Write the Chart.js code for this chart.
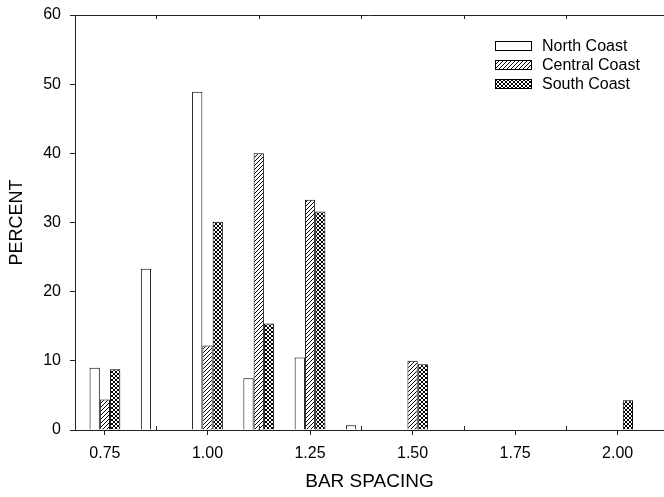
<!DOCTYPE html>
<html>
<head>
<meta charset="utf-8">
<script src="https://cdn.jsdelivr.net/npm/chart.js@4"></script>
<style>
  html, body { margin: 0; padding: 0; background: #fff; }
  #wrap { width: 664px; height: 497px; }
</style>
</head>
<body>
<div id="wrap"><canvas id="spacingChart"></canvas></div>
<script>
const seriesNames = ["North Coast", "Central Coast", "South Coast"];
const northSpacing = [0.75, 0.875, 1.0, 1.125, 1.25, 1.375];
const northPercent = [9.0, 23.3, 48.9, 7.5, 10.5, 0.7];
const centralSpacing = [0.75, 1.0, 1.125, 1.25, 1.5];
const centralPercent = [4.4, 12.2, 40.0, 33.3, 10.0];
const southSpacing = [0.75, 1.0, 1.125, 1.25, 1.5, 2.0];
const southPercent = [8.8, 30.1, 15.4, 31.6, 9.5, 4.3];
const xTicks = [0.75, 1.0, 1.25, 1.5, 1.75, 2.0];
const xMinorTicks = [0.875, 1.125, 1.375, 1.625, 1.875];

const axisColor = "#222";
const font = "Arial, 'Liberation Sans', sans-serif";

// fill patterns for the bars
function makePattern(cross) {
  const c = document.createElement("canvas");
  c.width = 4;
  c.height = 4;
  const g = c.getContext("2d");
  g.fillStyle = "#fff";
  g.fillRect(0, 0, 4, 4);
  g.strokeStyle = "#000";
  g.lineWidth = 1;
  g.beginPath();
  g.moveTo(-1, 5); g.lineTo(5, -1);
  g.moveTo(-1, 1); g.lineTo(1, -1);
  g.moveTo(3, 5); g.lineTo(5, 3);
  if (cross) {
    g.moveTo(-1, -1); g.lineTo(5, 5);
    g.moveTo(3, -1); g.lineTo(5, 1);
    g.moveTo(-1, 3); g.lineTo(1, 5);
  }
  g.stroke();
  return document.createElement("canvas").getContext("2d").createPattern(c, "repeat");
}

function toPoints(xs, ys) {
  return xs.map((x, i) => ({ x: x, y: ys[i] }));
}

const fills = ["#fff", makePattern(false), makePattern(true)];

// top frame line, minor ticks and the legend box
const extrasPlugin = {
  id: "extras",
  afterDraw(chart) {
    const ctx = chart.ctx;
    const area = chart.chartArea;
    const xs = chart.scales.x;
    ctx.save();
    ctx.strokeStyle = axisColor;
    ctx.lineWidth = 1;
    ctx.beginPath();
    ctx.moveTo(area.left, area.top + 0.5);
    ctx.lineTo(area.right, area.top + 0.5);
    xMinorTicks.forEach((v) => {
      const px = Math.round(xs.getPixelForValue(v)) + 0.5;
      ctx.moveTo(px, area.top);
      ctx.lineTo(px, area.top + 4);
      ctx.moveTo(px, area.bottom);
      ctx.lineTo(px, area.bottom - 4);
    });
    ctx.stroke();

    // legend
    ctx.font = "16px " + font;
    ctx.textBaseline = "middle";
    seriesNames.forEach((name, i) => {
      const y = 46 + i * 19;
      ctx.fillStyle = fills[i];
      ctx.fillRect(495, y - 5, 37, 10);
      ctx.strokeStyle = "#000";
      ctx.strokeRect(495.5, y - 4.5, 36, 9);
      ctx.fillStyle = "#000";
      ctx.fillText(name, 542, y + 1);
    });
    ctx.restore();
  },
};

new Chart(document.getElementById("spacingChart"), {
  type: "bar",
  data: {
    datasets: [
      { label: seriesNames[0], data: toPoints(northSpacing, northPercent), backgroundColor: fills[0] },
      { label: seriesNames[1], data: toPoints(centralSpacing, centralPercent), backgroundColor: fills[1] },
      { label: seriesNames[2], data: toPoints(southSpacing, southPercent), backgroundColor: fills[2] },
    ].map((d) => Object.assign(d, {
      borderColor: "#000",
      borderWidth: 1,
      categoryPercentage: 0.6,
      barPercentage: 1.0,
    })),
  },
  options: {
    responsive: true,
    maintainAspectRatio: false,
    animation: false,
    layout: { padding: { top: 15, right: 0, left: 0, bottom: 0 } },
    plugins: {
      legend: { display: false },
      tooltip: { enabled: false },
    },
    scales: {
      x: {
        type: "linear",
        position: "bottom",
        offset: false,
        min: 0.677,
        max: 2.113,
        afterBuildTicks: (axis) => {
          axis.ticks = xTicks.map((v) => ({ value: v }));
        },
        afterFit: (axis) => {
          axis.height = 67;
          axis.paddingLeft = 0;
          axis.paddingRight = 0;
        },
        ticks: {
          callback: (v) => Number(v).toFixed(2),
          color: "#000",
          font: { family: font, size: 16 },
          padding: 9,
          maxRotation: 0,
        },
        grid: { offset: false, drawOnChartArea: false, drawTicks: true, tickLength: 5, color: axisColor },
        border: { display: true, color: axisColor, width: 1 },
        title: {
          display: true,
          text: "BAR SPACING",
          color: "#000",
          font: { family: font, size: 19 },
          padding: { top: 14 },
        },
      },
      y: {
        min: 0,
        max: 60,
        afterFit: (axis) => {
          axis.width = 75;
          axis.paddingTop = 0;
          axis.paddingBottom = 0;
        },
        ticks: {
          stepSize: 10,
          color: "#000",
          font: { family: font, size: 16 },
          padding: 9,
        },
        grid: { drawOnChartArea: false, drawTicks: true, tickLength: 5, color: axisColor },
        border: { display: true, color: axisColor, width: 1 },
        title: {
          display: true,
          text: "PERCENT",
          color: "#000",
          font: { family: font, size: 18 },
          padding: { top: 6, bottom: 0 },
        },
      },
    },
  },
  plugins: [extrasPlugin],
});
</script>
</body>
</html>
